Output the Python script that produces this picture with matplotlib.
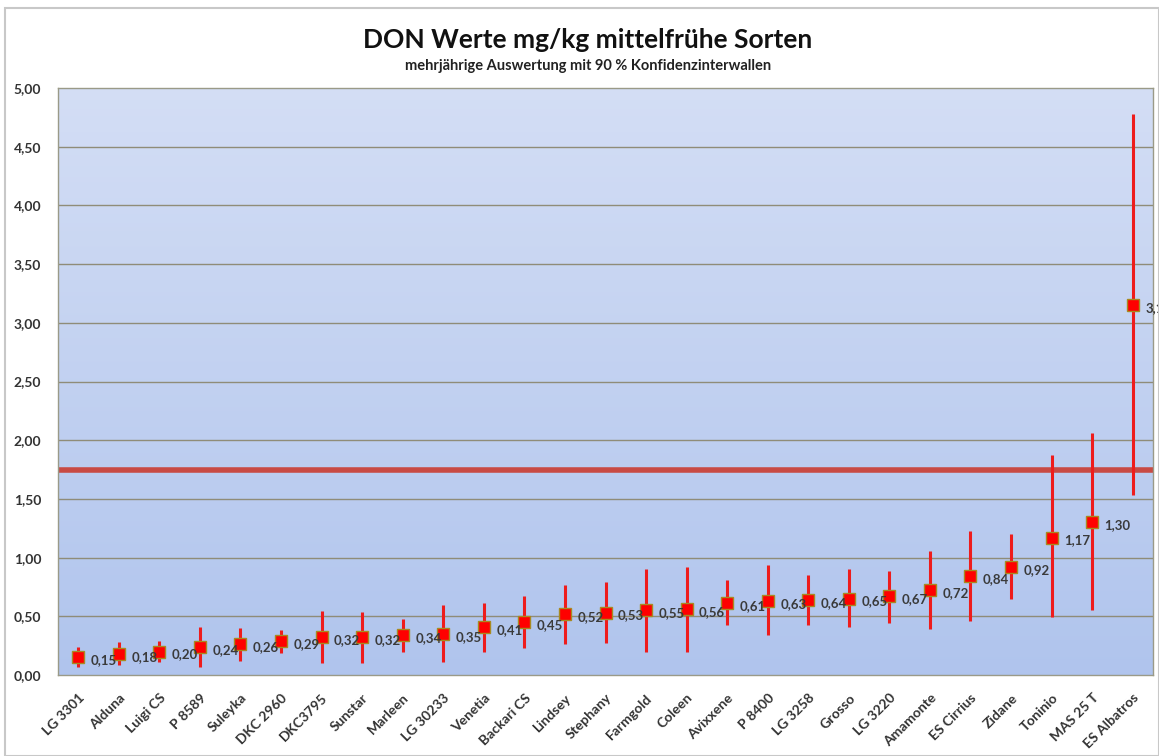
import numpy as np
import matplotlib.pyplot as plt
from matplotlib.patches import Rectangle

sorten = ['LG 3301', 'Alduna', 'Luigi CS', 'P 8589', 'Suleyka', 'DKC 2960', 'DKC3795',
          'Sunstar', 'Marleen', 'LG 30233', 'Venetia', 'Backari CS', 'Lindsey', 'Stephany',
          'Farmgold', 'Coleen', 'Avixxene', 'P 8400', 'LG 3258', 'Grosso', 'LG 3220',
          'Amamonte', 'ES Cirrius', 'Zidane', 'Toninio', 'MAS 25 T', 'ES Albatros']
mittel = [0.15, 0.18, 0.20, 0.24, 0.26, 0.29, 0.32, 0.32, 0.34, 0.35, 0.41, 0.45, 0.52, 0.53,
          0.55, 0.56, 0.61, 0.63, 0.64, 0.65, 0.67, 0.72, 0.84, 0.92, 1.17, 1.30, 3.15]
unten = [0.07, 0.085, 0.11, 0.065, 0.12, 0.19, 0.10, 0.10, 0.20, 0.11, 0.20, 0.23, 0.26, 0.27,
         0.20, 0.20, 0.43, 0.34, 0.425, 0.405, 0.445, 0.39, 0.46, 0.65, 0.49, 0.55, 1.53]
oben = [0.24, 0.28, 0.29, 0.41, 0.40, 0.38, 0.545, 0.54, 0.48, 0.60, 0.61, 0.675, 0.765, 0.79,
        0.905, 0.92, 0.805, 0.94, 0.85, 0.90, 0.89, 1.06, 1.23, 1.20, 1.87, 2.06, 4.78]
grenzwert = 1.75
yticks = [0.0, 0.5, 1.0, 1.5, 2.0, 2.5, 3.0, 3.5, 4.0, 4.5, 5.0]

plt.rcParams['font.family'] = ['Lato', 'DejaVu Sans']

fig = plt.figure(figsize=(11.59, 7.56), dpi=100)
fig.patches.append(Rectangle((5/1159, 0), 1 - 5/1159, 1 - 8/756, transform=fig.transFigure,
                             fill=False, edgecolor='#c8c8c8', linewidth=1.5))
ax = fig.add_axes([58/1159, 1 - 675/756, (1153 - 58)/1159, (675 - 88)/756])

x = np.arange(len(sorten))
ax.set_xlim(-0.5, len(sorten) - 0.5)
ax.set_ylim(0, 5)

# hintergrund verlauf
grad = np.linspace(0, 1, 256).reshape(-1, 1)
oben_c = np.array([0.83, 0.87, 0.96])
unten_c = np.array([0.69, 0.77, 0.93])
img = unten_c + (oben_c - unten_c) * grad[..., None]
ax.imshow(img, extent=[-0.5, len(sorten) - 0.5, 0, 5], origin='lower', aspect='auto', zorder=0)

for t in yticks[1:-1]:
    ax.axhline(t, color='#8f8c78', linewidth=1.0, zorder=1)

ax.axhline(grenzwert, color='#c84a44', linewidth=4, zorder=2)

m = np.array(mittel)
err = [m - np.array(unten), np.array(oben) - m]
ax.errorbar(x, m, yerr=err, fmt='none', ecolor='#ee1c1c', elinewidth=2.2, capsize=0, zorder=3)
ax.plot(x, m, 's', color='#ff0000', markeredgecolor='#a88a20', markeredgewidth=1,
        markersize=8, linestyle='none', zorder=4)

for xi, v in zip(x, mittel):
    ax.annotate(f'{v:.2f}'.replace('.', ','), (xi, v), xytext=(9, -2), textcoords='offset points',
                ha='left', va='center', fontsize=9.5, fontweight='bold', color='#3a3a3a',
                annotation_clip=False, zorder=5)

ax.set_yticks(yticks)
ax.set_yticklabels([f'{t:.2f}'.replace('.', ',') for t in yticks], fontsize=10,
                   fontweight='bold', color='#333333')
ax.set_xticks(x)
ax.set_xticklabels(sorten, rotation=45, ha='right', rotation_mode='anchor', fontsize=10,
                   fontweight='bold', color='#333333')
ax.tick_params(axis='both', length=0, pad=12)
for s in ax.spines.values():
    s.set_color('#9a9a88')
    s.set_linewidth(1)

fig.text(588/1159, 1 - 40/756, 'DON Werte mg/kg mittelfrühe Sorten', ha='center', va='center',
         fontsize=19, fontweight='bold', color='#111111')
fig.text(588/1159, 1 - 66/756, 'mehrjährige Auswertung mit 90 % Konfidenzinterwallen',
         ha='center', va='center', fontsize=10.5, fontweight='bold', color='#222222')

fig.savefig('out.png', dpi=100)
